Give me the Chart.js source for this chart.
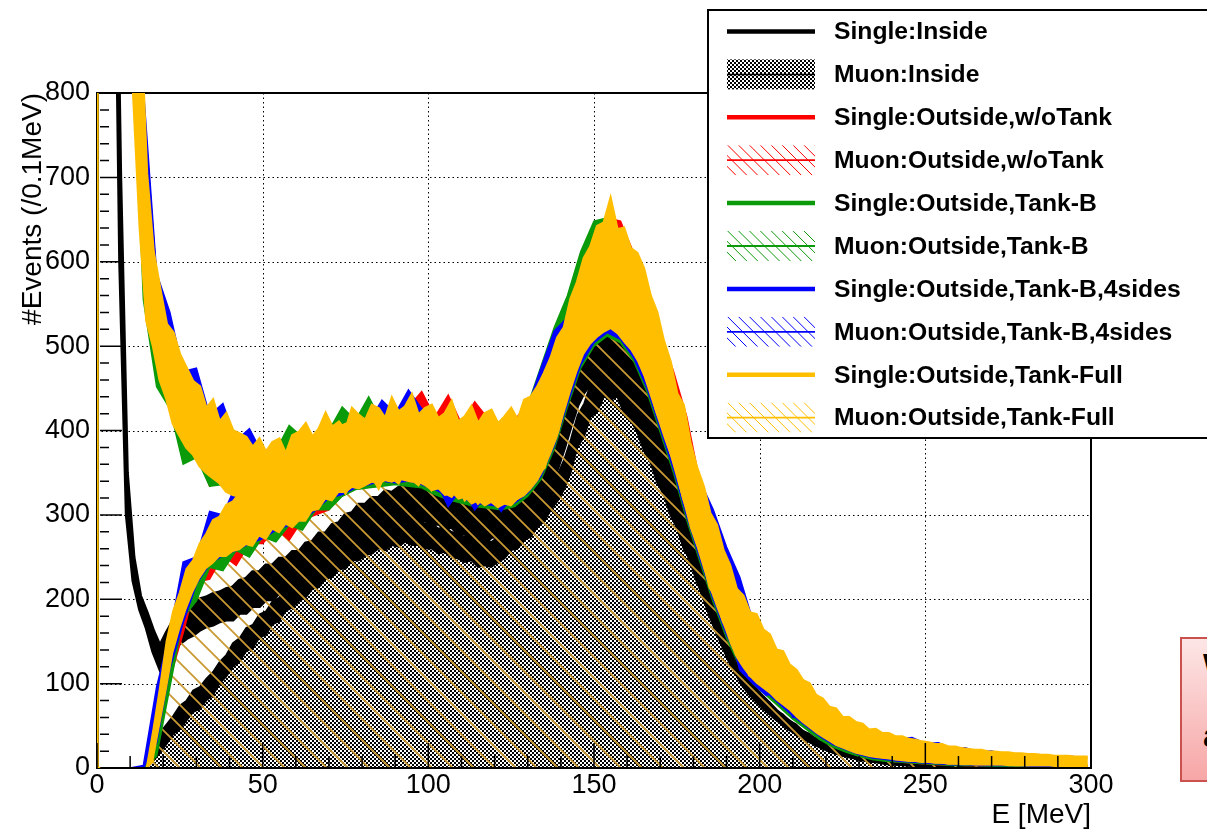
<!DOCTYPE html>
<html>
<head>
<meta charset="utf-8">
<title>Energy deposit spectra</title>
<script src="https://cdn.jsdelivr.net/npm/chart.js@4.4.1/dist/chart.umd.min.js"></script>
<style>
  html, body { margin: 0; padding: 0; background: #fff; overflow: hidden; }
  #wrap { position: relative; width: 1207px; height: 829px; overflow: hidden; }
  #spectrum { position: absolute; left: 0; top: 0; }
  .note { position: absolute; left: 1180px; top: 637px; width: 120px; height: 141px;
          border: 2px solid #c9524f; background: linear-gradient(#fde6e6, #f7a6a6);
          font: bold 34px "Liberation Sans", Arial, sans-serif; line-height: 34px; color: #000; }
  .note span { position: absolute; left: 21px; }
</style>
</head>
<body>
<div id="wrap">
  <canvas id="spectrum" width="1207" height="829"></canvas>
  <div class="note"><span style="top:9px">W</span><span style="top:79px">a</span></div>
</div>
<script>
// Energy spectra, rebinned: 2 MeV bins for the inside / Tank-Full curves,
// 4 MeV bins for the other outside configurations.
// Each noisy histogram is kept as a low / high envelope per bin.
const energyFine = Array.from({ length: 150 }, (_, i) => 2 * i + 1);
const energyCoarse = Array.from({ length: 75 }, (_, i) => 4 * i + 2);

const legendLabels = [
  'Single:Inside', 'Muon:Inside',
  'Single:Outside,w/oTank', 'Muon:Outside,w/oTank',
  'Single:Outside,Tank-B', 'Muon:Outside,Tank-B',
  'Single:Outside,Tank-B,4sides', 'Muon:Outside,Tank-B,4sides',
  'Single:Outside,Tank-Full', 'Muon:Outside,Tank-Full'
];

// --- inside ---
const singleInsideLo = [
  1200,1200,1200,600,300,222,188,166,138,118,
  132,142,148,154,158,164,168,170,174,176,
  176,184,184,192,192,200,200,208,208,216,
  216,226,228,238,238,248,250,260,262,272,
  272,280,280,288,286,292,290,296,292,294,
  288,290,284,286,278,278,270,272,266,274,
  274,276,278,282,286,296,308,322,336,356,
  380,406,430,446,456,464,470,472,466,456,
  444,426,408,388,366,344,322,298,272,248,
  226,204,182,162,144,126,112,98,88,80,
  72,65,58,52,46,41,36,32,28,24,
  21,18,16,14,12,10,9,8,7,6,
  5,5,4,4,3,3,3,3,2,2,
  2,2,2,2,1,1,1,1,1,1,
  1,1,1,1,1,1,1,1,1,1
];
const singleInsideHi = [
  1200,1200,1200,700,350,250,204,184,162,144,
  160,174,182,190,194,200,202,206,208,212,
  214,222,224,232,232,240,240,248,248,256,
  256,266,268,278,278,288,290,300,302,312,
  312,320,320,328,326,332,332,338,334,336,
  330,332,326,330,322,322,314,316,310,318,
  318,320,322,326,330,340,352,366,380,402,
  426,452,478,492,498,506,515,516,510,500,
  488,470,450,428,404,380,358,332,304,276,
  252,228,204,182,162,142,126,112,100,92,
  84,76,68,61,55,49,43,38,34,30,
  26,23,20,17,15,13,11,10,9,8,
  7,6,6,5,5,4,4,4,3,3,
  3,3,3,2,2,2,2,2,2,2,
  2,2,2,2,2,2,2,2,2,2
];
const muonInsideLo = [
  0,0,0,0,0,0,0,0,8,18,
  28,40,46,56,66,70,80,86,100,108,
  120,126,138,142,154,158,170,174,186,190,
  198,202,212,214,224,226,236,236,246,246,
  252,254,260,258,264,262,268,264,264,260,
  260,254,256,250,248,244,246,238,240,238,
  244,248,258,260,270,274,286,292,306,316,
  330,350,380,392,416,422,440,436,440,420,
  412,398,376,362,338,324,300,284,260,246,
  220,204,182,168,146,132,114,104,88,82,
  70,66,58,54,46,44,36,34,27,27,
  20,20,14,15,10,10,7,7,5,4,
  4,3,3,2,2,2,1,1,1,1,
  1,1,1,1,0,0,0,0,0,0,
  0,0,0,0,0,0,0,0,0,0
];
const muonInsideHi = [
  0,0,0,0,0,0,0,0,32,42,
  52,62,74,80,92,96,106,114,126,134,
  148,154,166,170,182,186,198,202,214,218,
  228,232,240,244,252,256,264,266,274,276,
  282,284,290,288,294,292,298,294,294,290,
  290,284,286,280,278,274,276,268,270,268,
  274,278,288,290,300,304,316,322,338,348,
  366,390,418,432,456,464,482,480,484,464,
  454,440,416,402,376,362,336,320,294,280,
  252,236,210,194,170,154,134,122,104,96,
  82,78,68,64,56,52,44,41,34,32,
  26,25,19,19,14,13,10,9,7,7,
  6,5,4,4,3,3,3,2,2,2,
  2,2,2,1,1,1,1,1,1,1,
  1,1,1,1,1,1,1,1,1,1
];

// --- outside, Tank-Full (2 MeV) ---
const singleFullLo = [
  1200,1200,1200,1200,1150,800,640,530,500,460,
  438,408,394,380,372,358,350,344,338,328,
  324,322,312,318,314,306,310,304,312,316,
  314,322,312,326,322,330,338,326,340,336,
  340,346,332,350,344,338,352,342,336,348,
  330,338,326,322,334,318,326,314,322,316,
  310,318,316,320,330,336,350,356,384,398,
  432,454,484,498,514,518,530,528,526,512,
  502,492,470,450,422,402,376,352,320,296,
  268,246,214,202,174,158,134,128,110,110,
  98,98,86,86,72,72,58,58,46,44,
  36,34,27,26,20,20,16,16,13,13,
  11,11,10,9,8,8,7,7,6,6,
  5,5,5,5,5,5,5,4,4,4,
  4,4,4,4,3,3,3,3,3,3
];
const singleFullHi = [
  1200,1200,1200,1200,1200,1100,900,705,612,568,
  526,516,490,474,458,452,426,436,410,420,
  400,396,392,380,390,374,386,390,372,394,
  398,408,392,402,420,404,410,400,426,418,
  412,430,426,414,438,422,428,442,418,426,
  430,414,420,434,410,416,428,408,420,424,
  408,416,426,412,436,440,452,468,486,510,
  522,556,576,604,618,642,646,674,638,640,
  616,610,592,560,540,506,482,444,430,386,
  356,334,302,288,258,240,212,204,184,182,
  164,158,140,138,122,116,104,100,86,82,
  72,70,60,60,54,52,45,46,41,41,
  37,37,34,33,31,30,28,28,25,25,
  23,22,21,21,19,19,18,18,17,17,
  16,16,15,15,14,14,14,13,13,13
];
const muonFullLo = [
  0,0,0,0,0,0,0,0,8,50,
  92,136,164,188,208,224,236,242,250,250,
  256,258,264,262,274,270,282,278,288,284,
  292,292,304,306,318,316,326,326,332,330,
  334,338,336,340,338,342,340,338,338,334,
  328,330,322,326,318,320,312,316,310,314,
  308,312,310,318,322,330,340,354,372,392,
  420,446,470,490,502,510,516,520,514,504,
  495,482,464,440,416,392,370,342,314,284,
  262,236,212,190,170,148,130,118,108,100,
  94,88,80,74,68,60,53,47,41,36,
  31,26,23,20,17,15,13,12,11,10,
  9,8,7,7,6,6,5,5,4,4,
  4,4,3,3,3,3,3,3,2,2,
  2,2,2,2,2,2,2,2,2,2
];
const muonFullHi = [
  0,0,0,0,0,0,0,0,45,95,
  150,186,208,236,246,266,278,294,298,312,
  316,326,330,344,342,352,356,364,362,374,
  378,384,388,392,398,400,404,408,410,414,
  404,414,408,410,416,410,414,412,404,412,
  402,408,404,408,398,404,400,404,398,402,
  396,404,402,408,416,424,434,446,470,490,
  506,530,560,580,600,614,626,640,624,610,
  600,588,574,540,514,492,460,430,406,370,
  334,312,286,264,246,218,198,186,174,168,
  154,144,132,124,114,106,98,89,82,74,
  68,62,58,54,51,46,43,40,38,36,
  34,33,32,30,28,27,26,25,23,22,
  21,20,19,18,18,17,17,16,16,15,
  15,14,14,13,13,13,12,12,12,12
];

// --- outside, w/oTank (4 MeV) ---
const redSingleLo = [
  1200,1200,980,590,490,432,396,376,334,342,
  330,322,318,314,304,324,326,336,340,344,
  348,350,350,354,350,342,336,332,326,326,
  322,326,340,362,400,452,500,526,538,528,
  506,470,422,374,316,266,218,176,140,120,
  108,94,80,66,52,42,32,26,20,16,
  13,12,10,9,8,7,6,5,5,4,
  4,4,4,3,3
];
const redSingleHi = [
  1200,1200,1120,790,580,512,476,446,424,408,
  390,380,376,380,378,398,392,406,400,416,
  414,424,420,428,446,416,442,408,434,414,
  404,412,432,456,494,534,584,624,652,648,
  610,570,516,470,416,338,288,244,202,178,
  156,134,112,98,80,68,56,50,42,38,
  34,31,28,26,23,21,19,18,16,16,
  14,14,13,13,12
];
const redMuonLo = [
  0,0,0,0,20,106,160,220,224,252,
  240,266,266,284,270,294,300,306,330,332,
  334,336,338,336,334,326,320,316,312,310,
  308,312,324,344,380,430,476,502,514,506,
  484,448,400,352,296,246,198,156,122,102,
  88,74,60,48,36,26,20,15,11,9,
  7,6,5,4,4,3,3,3,2,2,
  2,2,2,2,2
];
const redMuonHi = [
  0,0,0,0,62,162,218,252,282,300,
  316,330,342,352,362,372,382,392,400,406,
  402,406,404,406,402,398,398,394,394,394,
  394,398,414,436,478,516,564,600,622,606,
  584,548,494,438,380,318,270,228,188,164,
  142,120,102,86,70,58,50,43,37,32,
  29,27,24,22,20,18,16,15,14,13,
  12,11,11,10,10
];

// --- outside, Tank-B (4 MeV) ---
const greenSingleLo = [
  1200,1200,940,555,452,426,360,368,334,336,
  328,320,314,316,318,324,326,336,340,344,
  348,346,350,350,348,340,330,330,324,324,
  320,324,340,362,398,452,500,526,538,528,
  506,470,422,374,316,266,216,174,138,118,
  106,94,78,64,50,40,30,24,18,15,
  12,11,9,8,7,6,5,5,4,4,
  4,4,3,3,3
];
const greenSingleHi = [
  1200,1200,1150,790,578,508,470,444,420,404,
  386,376,370,376,406,392,388,400,428,412,
  440,410,418,424,412,410,414,402,406,410,
  400,408,430,476,522,560,612,648,652,628,
  604,566,512,452,398,336,286,240,200,176,
  154,130,110,96,80,66,56,50,42,38,
  34,30,28,26,22,21,19,18,16,16,
  14,14,13,13,12
];
const greenMuonLo = [
  0,0,0,0,14,96,178,198,238,234,
  258,250,274,268,288,282,306,306,322,330,
  332,334,336,334,332,324,318,314,310,308,
  306,310,322,342,378,428,474,500,512,504,
  482,446,398,350,294,244,196,154,120,100,
  86,72,58,46,34,25,19,14,10,8,
  7,6,5,4,3,3,3,2,2,2,
  2,2,2,2,2
];
const greenMuonHi = [
  0,0,0,0,60,160,215,250,280,300,
  315,330,342,352,362,372,382,392,400,406,
  404,408,406,408,404,400,400,396,396,396,
  396,400,416,438,480,518,566,602,624,608,
  586,550,496,440,382,320,272,230,190,166,
  144,122,104,88,72,60,51,44,38,33,
  30,28,25,23,21,19,17,16,15,14,
  13,12,11,11,10
];

// --- outside, Tank-B 4 sides (4 MeV) ---
const blueSingleLo = [
  1200,1200,1000,590,490,430,396,374,356,340,
  330,322,318,316,322,326,328,334,340,344,
  348,350,350,354,350,342,310,332,306,326,
  304,326,340,362,398,452,500,526,538,528,
  506,470,422,374,316,266,216,174,116,100,
  86,92,60,62,40,48,22,26,12,16,
  10,10,8,8,6,6,5,5,4,4,
  4,4,3,3,3
];
const blueSingleHi = [
  1200,1200,1180,805,586,540,470,474,418,432,
  388,402,372,380,372,392,386,400,396,410,
  410,436,420,448,426,410,416,402,408,412,
  402,408,428,474,518,534,584,620,648,628,
  604,566,514,456,402,340,306,262,226,174,
  152,132,110,96,78,66,56,50,40,38,
  34,36,29,30,23,24,19,20,16,17,
  14,15,13,14,12
];
const blueMuonLo = [
  0,0,0,0,30,118,172,218,242,252,
  258,266,272,282,288,294,306,320,324,332,
  336,340,338,340,336,330,322,320,314,312,
  310,314,326,346,382,432,478,504,516,508,
  486,450,402,354,298,248,200,158,124,104,
  90,76,62,50,38,28,22,16,12,10,
  8,7,6,5,4,4,3,3,3,3,
  2,2,2,2,2
];
const blueMuonHi = [
  0,0,0,3,96,160,244,250,304,300,
  336,330,360,352,364,372,380,390,400,410,
  412,416,414,416,412,408,408,404,403,403,
  402,408,424,446,490,528,576,610,632,618,
  596,560,506,450,392,330,282,240,200,176,
  152,130,112,96,80,66,57,50,43,38,
  35,32,29,26,24,21,20,18,17,16,
  15,14,13,12,12
];

const FONT = '"Liberation Sans", Arial, Helvetica, sans-serif';
const RED = '#ff0000', GREEN = '#0a9a0a', BLUE = '#0000ff', GOLD = '#ffbe00';

function checkerPattern() {
  const c = document.createElement('canvas');
  c.width = 4; c.height = 4;
  const g = c.getContext('2d');
  g.fillStyle = '#fff'; g.fillRect(0, 0, 4, 4);
  g.fillStyle = '#000'; g.fillRect(0, 0, 2, 2); g.fillRect(2, 2, 2, 2);
  return g.createPattern(c, 'repeat');
}

// "\" hatching, period in pixels along x
function hatchPattern(color, step, width) {
  const c = document.createElement('canvas');
  c.width = step; c.height = step;
  const g = c.getContext('2d');
  g.strokeStyle = color; g.lineWidth = width;
  g.beginPath();
  for (const k of [-step, 0, step]) { g.moveTo(k - 2, -2); g.lineTo(k + step + 2, step + 2); }
  g.stroke();
  return g.createPattern(c, 'repeat');
}

const checker = checkerPattern();
const hatch = hatchPattern('#c99a32', 21, 1.8);

// histogram outline: rises from the baseline at the low edge E = 0
function hist(xs, ys) {
  return [{ x: 0, y: 0 }, { x: 0, y: ys[0] }].concat(ys.map((y, i) => ({ x: xs[i], y })));
}

const datasets = [];
function addLine(label, xs, ys, color, width, fill, bg) {
  datasets.push({
    label, data: hist(xs, ys), borderColor: color, borderWidth: width,
    fill: fill, backgroundColor: bg || 'transparent',
    pointRadius: 0, tension: 0
  });
  return datasets.length - 1;
}
function addBand(label, xs, lo, hi, color, width) {
  const i = addLine(label + ' (low)', xs, lo, color, width, false);
  addLine(label, xs, hi, color, width, i, color);
}

// bottom to top
const miLo = addLine('Muon:Inside (low)', energyFine, muonInsideLo, '#000', 1.5, 'origin', checker);
addLine('Muon:Inside', energyFine, muonInsideHi, '#000', 1.5, miLo, '#000');
addBand('Single:Inside', energyFine, singleInsideLo, singleInsideHi, '#000', 4);
const ymLo = addLine('Muon:Outside,Tank-Full (low)', energyFine, muonFullLo, GOLD, 1.5, 'origin', hatch);
addBand('Single:Outside,w/oTank', energyCoarse, redSingleLo, redSingleHi, RED, 1.5);
addBand('Muon:Outside,w/oTank', energyCoarse, redMuonLo, redMuonHi, RED, 1.5);
addBand('Single:Outside,Tank-B', energyCoarse, greenSingleLo, greenSingleHi, GREEN, 1.5);
addBand('Muon:Outside,Tank-B', energyCoarse, greenMuonLo, greenMuonHi, GREEN, 1.5);
addBand('Single:Outside,Tank-B,4sides', energyCoarse, blueSingleLo, blueSingleHi, BLUE, 1.5);
addBand('Muon:Outside,Tank-B,4sides', energyCoarse, blueMuonLo, blueMuonHi, BLUE, 1.5);
addBand('Single:Outside,Tank-Full', energyFine, singleFullLo, singleFullHi, GOLD, 3);
addLine('Muon:Outside,Tank-Full', energyFine, muonFullHi, GOLD, 2, ymLo, GOLD);
// Chart.js draws higher `order` first
datasets.forEach((d, i) => { d.order = datasets.length - i; });

// grid, frame, ticks and axis titles in the usual ROOT look
const rootFrame = {
  id: 'rootFrame',
  beforeDatasetsDraw(chart) {
    const { ctx, chartArea: a, scales: { x, y } } = chart;
    ctx.save();
    ctx.strokeStyle = '#000';
    ctx.lineWidth = 1;
    ctx.setLineDash([1.5, 3]);
    ctx.beginPath();
    x.ticks.forEach(t => {
      if (t.value <= x.min || t.value >= x.max) return;
      const px = Math.round(x.getPixelForValue(t.value)) + 0.5;
      ctx.moveTo(px, a.top); ctx.lineTo(px, a.bottom);
    });
    y.ticks.forEach(t => {
      if (t.value <= y.min || t.value >= y.max) return;
      const py = Math.round(y.getPixelForValue(t.value)) + 0.5;
      ctx.moveTo(a.left, py); ctx.lineTo(a.right, py);
    });
    ctx.stroke();
    ctx.setLineDash([]);
    ctx.lineWidth = 2;
    ctx.strokeRect(a.left, a.top, a.right - a.left, a.bottom - a.top);
    ctx.restore();
  },
  afterDatasetsDraw(chart) {
    const { ctx, chartArea: a, scales: { x, y } } = chart;
    ctx.save();
    ctx.strokeStyle = '#000';
    ctx.lineWidth = 1.5;
    ctx.beginPath();
    for (let v = x.min; v <= x.max; v += 10) {
      const px = x.getPixelForValue(v);
      ctx.moveTo(px, a.bottom); ctx.lineTo(px, a.bottom - (v % 50 === 0 ? 25 : 12));
    }
    for (let v = y.min; v <= y.max; v += 20) {
      const py = y.getPixelForValue(v);
      ctx.moveTo(a.left + 3, py); ctx.lineTo(a.left + (v % 100 === 0 ? 25 : 12), py);
    }
    ctx.stroke();
    ctx.lineWidth = 2;
    ctx.beginPath();
    ctx.moveTo(a.right, a.top); ctx.lineTo(a.right, a.bottom); ctx.lineTo(a.left + 4, a.bottom);
    ctx.stroke();

    ctx.fillStyle = '#000';
    ctx.font = '28px ' + FONT;
    ctx.textAlign = 'right';
    ctx.textBaseline = 'alphabetic';
    ctx.fillText('E [MeV]', a.right, 823);
    ctx.translate(41, a.top);
    ctx.rotate(-Math.PI / 2);
    ctx.fillText('#Events (/0.1MeV)', 0, 0);
    ctx.restore();
  }
};

const legendColors = ['#000', '#000', RED, RED, GREEN, GREEN, BLUE, BLUE, GOLD, GOLD];

const rootLegend = {
  id: 'rootLegend',
  afterDraw(chart) {
    const ctx = chart.ctx;
    ctx.save();
    ctx.fillStyle = '#fff';
    ctx.fillRect(708, 10, 520, 428);
    ctx.strokeStyle = '#000';
    ctx.lineWidth = 2;
    ctx.strokeRect(708, 10, 520, 428);
    const x0 = 727, x1 = 815;
    legendLabels.forEach((label, i) => {
      const cy = 31.5 + i * 42.9;
      const color = legendColors[i];
      if (i === 1) {
        ctx.fillStyle = checker;
        ctx.fillRect(x0, cy - 15, x1 - x0, 30);
        ctx.strokeStyle = '#000'; ctx.lineWidth = 1.5;
        ctx.beginPath(); ctx.moveTo(x0, cy); ctx.lineTo(x1, cy); ctx.stroke();
      } else if (i % 2 === 1) {
        ctx.save();
        ctx.beginPath(); ctx.rect(x0, cy - 15, x1 - x0, 30); ctx.clip();
        ctx.strokeStyle = color; ctx.lineWidth = 1;
        ctx.beginPath();
        for (let k = x0 - 32; k < x1; k += 10.9) { ctx.moveTo(k, cy - 15); ctx.lineTo(k + 30, cy + 15); }
        ctx.stroke();
        ctx.restore();
        ctx.strokeStyle = color; ctx.lineWidth = 1.8;
        ctx.beginPath(); ctx.moveTo(x0, cy); ctx.lineTo(x1, cy); ctx.stroke();
      } else {
        ctx.strokeStyle = color; ctx.lineWidth = 4.5;
        ctx.beginPath(); ctx.moveTo(x0, cy); ctx.lineTo(x1, cy); ctx.stroke();
      }
      ctx.fillStyle = '#000';
      ctx.font = 'bold 24.7px ' + FONT;
      ctx.textAlign = 'left';
      ctx.textBaseline = 'middle';
      ctx.fillText(label, 834, cy + 1);
    });
    ctx.restore();
  }
};

const tickFont = { family: FONT, size: 27 };

new Chart(document.getElementById('spectrum'), {
  type: 'line',
  data: { datasets },
  options: {
    responsive: false,
    animation: false,
    devicePixelRatio: 1,
    events: [],
    layout: { padding: { left: 0, top: 93, right: 116, bottom: 0 } },
    plugins: { legend: { display: false }, tooltip: { enabled: false } },
    scales: {
      x: {
        type: 'linear', min: 0, max: 300,
        afterFit: s => { s.height = 61; },
        grid: { display: false, drawTicks: false },
        border: { display: false },
        ticks: { stepSize: 50, autoSkip: false, maxRotation: 0, padding: 1, color: '#000', font: tickFont }
      },
      y: {
        min: 0, max: 800,
        afterFit: s => { s.width = 97; },
        grid: { display: false, drawTicks: false },
        border: { display: false },
        ticks: { stepSize: 100, padding: 7, color: '#000', font: tickFont }
      }
    }
  },
  plugins: [rootFrame, rootLegend]
});
</script>
</body>
</html>
